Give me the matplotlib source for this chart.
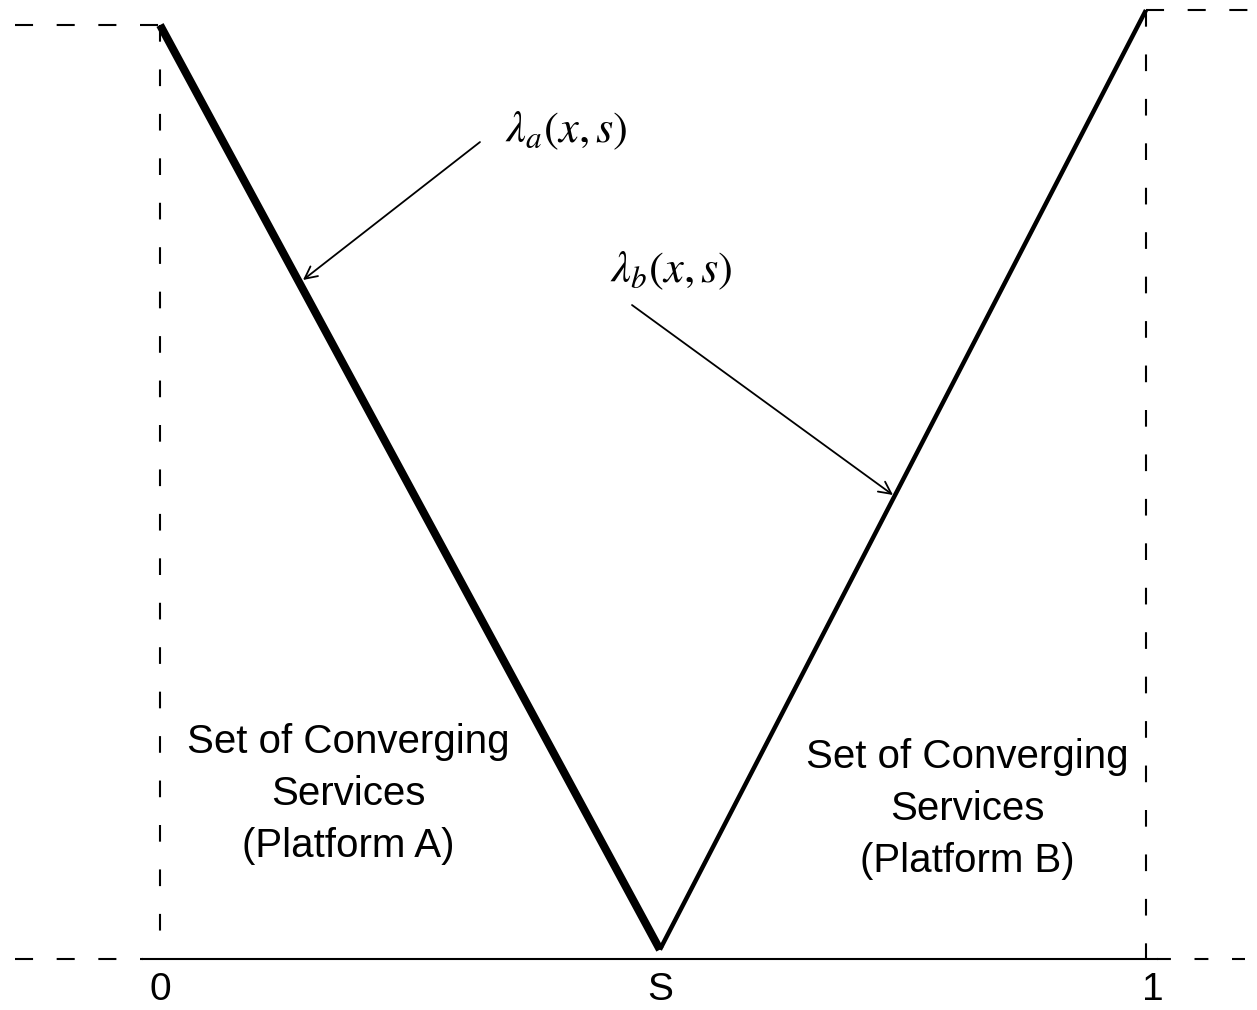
import matplotlib
matplotlib.use("Agg")
import matplotlib.pyplot as plt

plt.rcParams['font.family'] = ['Liberation Sans', 'DejaVu Sans']
plt.rcParams['mathtext.fontset'] = 'stix'
plt.rcParams['lines.scale_dashes'] = False

# positions on the horizontal axis: 0, S, 1
x_nodes = [0.0, 0.507, 1.0]
tick_labels = ['0', 'S', '1']

# the two lambda curves (left platform A, right platform B)
lambda_a = [1.0, 0.01]
lambda_b = [0.01, 1.016]

region_labels = ['Set of Converging\nServices\n(Platform A)',
                 'Set of Converging\nServices\n(Platform B)']
curve_labels = [r'$\lambda_a(x,s)$', r'$\lambda_b(x,s)$']

fig = plt.figure(figsize=(12.57, 10.10), dpi=100)
ax = fig.add_axes([0, 0, 1, 1])
ax.set_xlim(-0.1623, 1.1126)
ax.set_ylim(-0.0546, 1.0268)
ax.axis('off')

dash = (13, 17)

# curves
ax.plot(x_nodes[:2], lambda_a, color='black', lw=5.8, solid_capstyle='butt')
ax.plot(x_nodes[1:], lambda_b, color='black', lw=3.2, solid_capstyle='butt')

# baseline (solid inside, dashed outside)
ax.plot([-0.017, 1.011], [0, 0], color='black', lw=1.5)
ax.plot([-0.147, -0.017], [0, 0], color='black', lw=1.5, dashes=dash)
ax.plot([1.011, 1.10], [0, 0], color='black', lw=1.5, dashes=(10, 17))

# top dashed guides
ax.plot([-0.147, x_nodes[0]], [lambda_a[0], lambda_a[0]], color='black', lw=1.5, dashes=dash)
ax.plot([x_nodes[2], 1.12], [lambda_b[1], lambda_b[1]], color='black', lw=1.5, dashes=dash)

# vertical dashed guides at 0 and 1
ax.plot([x_nodes[0], x_nodes[0]], [lambda_a[0], 0], color='black', lw=1.5, dashes=(12, 20))
ax.plot([x_nodes[2], x_nodes[2]], [lambda_b[1], 0], color='black', lw=1.5, dashes=(12, 20))

# tick labels under the axis
for xv, lab in zip(x_nodes, tick_labels):
    dx = 0.007 if lab == '1' else 0.0
    ax.text(xv + dx, -0.033, lab, fontsize=28, ha='center', va='center')

# region texts
ax.text(0.1907, 0.177, region_labels[0], fontsize=29, ha='center', va='center',
        linespacing=1.47)
ax.text(0.8185, 0.161, region_labels[1], fontsize=29, ha='center', va='center',
        linespacing=1.47)

# lambda labels with arrows
arrow = dict(arrowstyle='->', color='black', lw=1.3, mutation_scale=22,
             shrinkA=0, shrinkB=0)
ax.annotate('', xy=(0.145, 0.727), xytext=(0.3245, 0.8747), arrowprops=arrow)
ax.annotate('', xy=(0.7434, 0.4968), xytext=(0.4787, 0.7002), arrowprops=arrow)
ax.text(0.35, 0.887, curve_labels[0], fontsize=32, ha='left', va='center')
ax.text(0.456, 0.737, curve_labels[1], fontsize=32, ha='left', va='center')

fig.savefig('out.png', dpi=100)
